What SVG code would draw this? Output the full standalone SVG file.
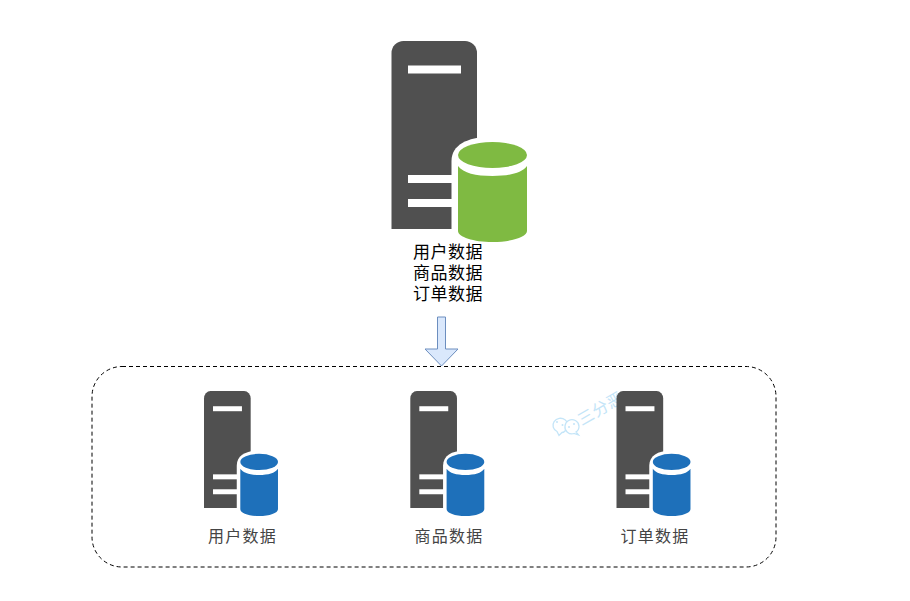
<svg xmlns="http://www.w3.org/2000/svg" width="910" height="601" viewBox="0 0 910 601">
<style>
.bg{fill:#fff}
.srv{fill:#505050}
.w{fill:#fff}
.g{fill:#7fba42}
.b{fill:#1e70ba}
.t1{font-family:"Noto Sans CJK SC","Noto Sans CJK JP",sans-serif;font-size:17px;fill:#000;text-anchor:middle;letter-spacing:.5px}
.t2{font-family:"Noto Sans CJK SC","Noto Sans CJK JP",sans-serif;font-size:16px;fill:#444;text-anchor:middle;letter-spacing:1.300px}
.wm{fill:#fff;stroke:#c4e5f8;stroke-width:1.300}
.wd{fill:#c4e5f8}
</style>
<defs>
<g id="server">
<path class="srv" d="M0 188V12A12 12 0 0 1 12 0H73.500A12 12 0 0 1 85.500 12V188Z"/>
<rect class="w" x="16.500" y="24.500" width="53" height="8"/>
<rect class="w" x="16.500" y="134" width="50" height="8"/>
<rect class="w" x="16.500" y="158" width="50" height="8"/>
<path class="w" d="M60 206V120C60 104 76 96 98 96C122 96 142 104 142 120V206Z"/>
</g>
<path id="cyl-top" d="M66.500 114A34.500 13 0 0 1 135.500 114A34.500 13 0 0 1 66.500 114Z"/>
<path id="cyl-body" d="M66.500 125C72 132 84 135 101 135C118 135 130 132 135.500 125V190C135.500 196 120 201 101 201C82 201 66.500 196 66.500 190Z"/>
</defs>
<rect class="bg" width="910" height="601"/>
<g id="watermark">
<path class="wm" d="M566 430A7.500 7 0 1 0 557 431.500L559 435.500L562 432.500Q564 432.500 566 430Z"/>
<path class="wm" d="M565 426A7 6.800 0 1 1 576 432L578.500 435L574 433.500A7 6.800 0 0 1 565 426Z"/>
<circle class="wd" cx="557" cy="422" r="1"/>
<circle class="wd" cx="562.500" cy="425" r="1"/>
<circle class="wd" cx="569" cy="427" r="1"/>
<circle class="wd" cx="574" cy="424" r="1"/>
<text transform="translate(585.700 416.700) rotate(-30)" x="-8" y="6" font-family="'Noto Sans CJK SC',sans-serif" font-size="16" letter-spacing=".6" fill="#c4e5f8">三分恶</text>
</g>
<g id="connectors">
<path d="M437.500 317H445.500V349H458L441.500 366L425 349H437.500Z" fill="#dae8fc" stroke="#6c8ebf" stroke-width="1"/>
</g>
<g id="node-main">
<use href="#server" transform="translate(391.500 41)"/>
<use href="#cyl-top" class="g" transform="translate(391.500 41)"/>
<use href="#cyl-body" class="g" transform="translate(391.500 41)"/>
<text class="t1" y="258"><tspan x="448">用户数据</tspan><tspan x="448" dy="21">商品数据</tspan><tspan x="448" dy="21">订单数据</tspan></text>
</g>
<g id="group-box">
<rect x="92" y="366.500" width="684" height="200.500" rx="30" ry="30" fill="none" stroke="#000" stroke-dasharray="4 3"/>
</g>
<g id="node-user">
<use href="#server" transform="translate(204 391) scale(.546 .622)"/>
<use href="#cyl-top" class="b" transform="translate(204 391) scale(.546 .622)"/>
<use href="#cyl-body" class="b" transform="translate(204 391) scale(.546 .622)"/>
<text class="t2" x="242.500" y="542">用户数据</text>
</g>
<g id="node-product">
<use href="#server" transform="translate(410.300 391) scale(.546 .622)"/>
<use href="#cyl-top" class="b" transform="translate(410.300 391) scale(.546 .622)"/>
<use href="#cyl-body" class="b" transform="translate(410.300 391) scale(.546 .622)"/>
<text class="t2" x="449" y="542">商品数据</text>
</g>
<g id="node-order">
<use href="#server" transform="translate(616.500 391) scale(.546 .622)"/>
<use href="#cyl-top" class="b" transform="translate(616.500 391) scale(.546 .622)"/>
<use href="#cyl-body" class="b" transform="translate(616.500 391) scale(.546 .622)"/>
<text class="t2" x="655" y="542">订单数据</text>
</g>
</svg>
